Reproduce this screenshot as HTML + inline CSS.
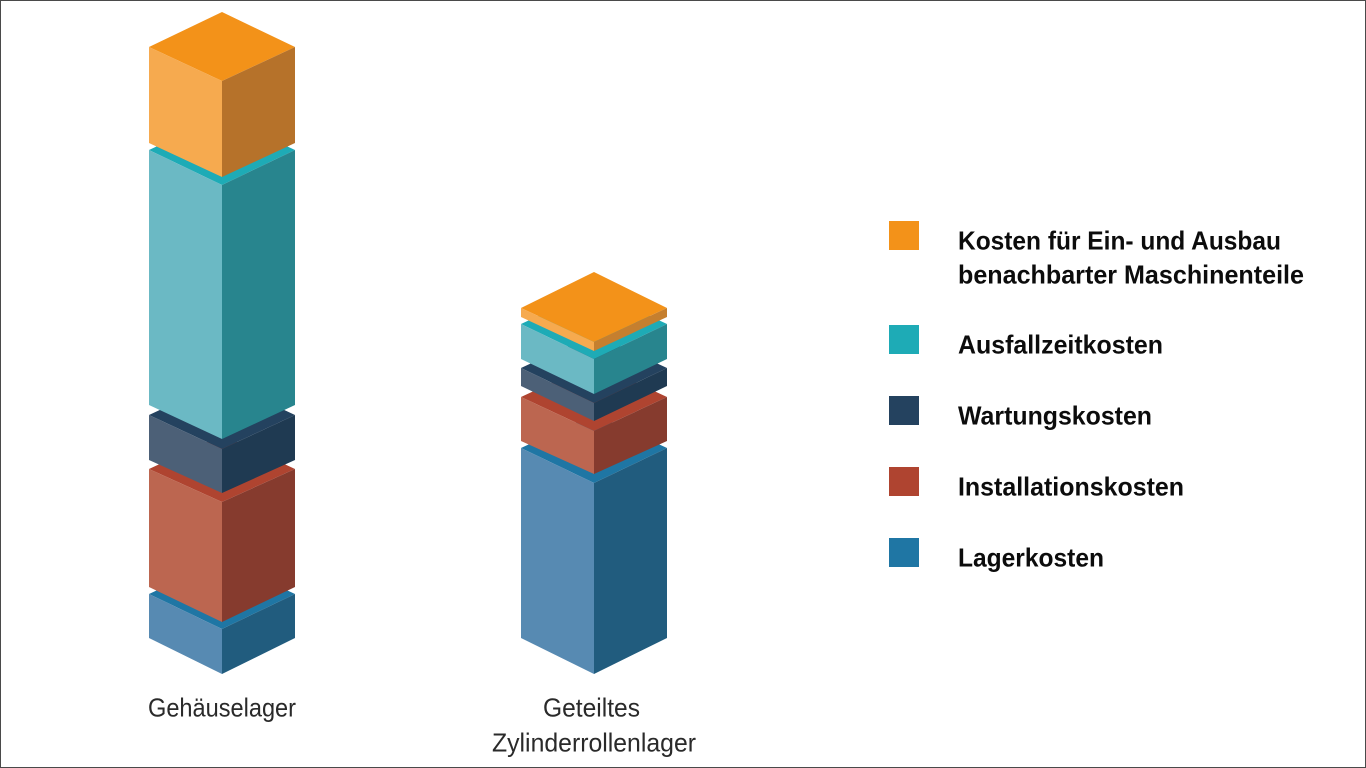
<!DOCTYPE html>
<html><head><meta charset="utf-8"><title>Kosten</title>
<style>html,body{margin:0;padding:0;background:#fff;width:1366px;height:768px;overflow:hidden}svg{display:block}
text{font-family:"Liberation Sans",sans-serif;fill:#111}
.b{font-weight:700;font-size:26px;fill:#0c0c0c}.r{font-size:26px;fill:#2a2a2a}</style></head><body>
<svg width="1366" height="768" viewBox="0 0 1366 768" xmlns="http://www.w3.org/2000/svg">
<rect width="1366" height="768" fill="#fff"/>
<rect x="0.5" y="0.5" width="1365" height="767" fill="none" stroke="#4a4a4a" stroke-width="1"/>
<!-- Left stack -->
<g>
<polygon points="149,594 222,560 295,594 222,629" fill="#1f76a4"/>
<polygon points="149,594 222,629 222,674 149,638" fill="#578ab2"/>
<polygon points="295,594 222,629 222,674 295,638" fill="#215c7e"/>
<polygon points="149,469 222,435 295,469 222,502" fill="#af4430"/>
<polygon points="149,469 222,502 222,622 149,587" fill="#bc6650"/>
<polygon points="295,469 222,502 222,622 295,587" fill="#863b2e"/>
<polygon points="149,415 222,381 295,415 222,449" fill="#24425f"/>
<polygon points="149,415 222,449 222,493 149,460" fill="#4c6077"/>
<polygon points="295,415 222,449 222,493 295,460" fill="#1f3a52"/>
<polygon points="149,150 222,116 295,150 222,185" fill="#1eabb6"/>
<polygon points="149,150 222,185 222,439 149,405" fill="#6bb9c4"/>
<polygon points="295,150 222,185 222,439 295,405" fill="#28858e"/>
<polygon points="149,47 222,12 295,47 222,81" fill="#f39219"/>
<polygon points="149,47 222,81 222,177 149,143" fill="#f6aa4f"/>
<polygon points="295,47 222,81 222,177 295,143" fill="#b6722a"/>
</g>
<!-- Right stack -->
<g>
<polygon points="521,448 594,414 667,448 594,483" fill="#1f76a4"/>
<polygon points="521,448 594,483 594,674 521,638" fill="#578ab2"/>
<polygon points="667,448 594,483 594,674 667,638" fill="#215c7e"/>
<polygon points="521,397 594,363 667,397 594,431" fill="#af4430"/>
<polygon points="521,397 594,431 594,474 521,441" fill="#bc6650"/>
<polygon points="667,397 594,431 594,474 667,441" fill="#863b2e"/>
<polygon points="521,368 594,334 667,368 594,403" fill="#24425f"/>
<polygon points="521,368 594,403 594,421 521,386" fill="#4c6077"/>
<polygon points="667,368 594,403 594,421 667,386" fill="#1f3a52"/>
<polygon points="521,324 594,290 667,324 594,359" fill="#1eabb6"/>
<polygon points="521,324 594,359 594,394 521,359" fill="#6bb9c4"/>
<polygon points="667,324 594,359 594,394 667,359" fill="#28858e"/>
<polygon points="521,308 594,272 667,308 594,342" fill="#f39219"/>
<polygon points="521,308 594,342 594,351 521,317" fill="#f6aa4f"/>
<polygon points="667,308 594,342 594,351 667,317" fill="#c57f2f"/>
</g>
<!-- Legend -->
<rect x="889" y="221" width="30" height="29" fill="#f39219"/>
<rect x="889" y="325" width="30" height="29" fill="#1eabb6"/>
<rect x="889" y="396" width="30" height="29" fill="#24425f"/>
<rect x="889" y="467" width="30" height="29" fill="#af4430"/>
<rect x="889" y="538" width="30" height="29" fill="#1f76a4"/>
<text class="b" x="958" y="249.5" textLength="323" lengthAdjust="spacingAndGlyphs">Kosten für Ein- und Ausbau</text>
<text class="b" x="958" y="283.5" textLength="346" lengthAdjust="spacingAndGlyphs">benachbarter Maschinenteile</text>
<text class="b" x="958" y="353.5" textLength="205" lengthAdjust="spacingAndGlyphs">Ausfallzeitkosten</text>
<text class="b" x="958" y="424.5" textLength="194" lengthAdjust="spacingAndGlyphs">Wartungskosten</text>
<text class="b" x="958" y="495.5" textLength="226" lengthAdjust="spacingAndGlyphs">Installationskosten</text>
<text class="b" x="958" y="566.5" textLength="146" lengthAdjust="spacingAndGlyphs">Lagerkosten</text>
<!-- Labels -->
<text class="r" x="148" y="716.5" textLength="148" lengthAdjust="spacingAndGlyphs">Gehäuselager</text>
<text class="r" x="543" y="716.5" textLength="97" lengthAdjust="spacingAndGlyphs">Geteiltes</text>
<text class="r" x="492" y="751.5" textLength="204" lengthAdjust="spacingAndGlyphs">Zylinderrollenlager</text>
</svg>
</body></html>
